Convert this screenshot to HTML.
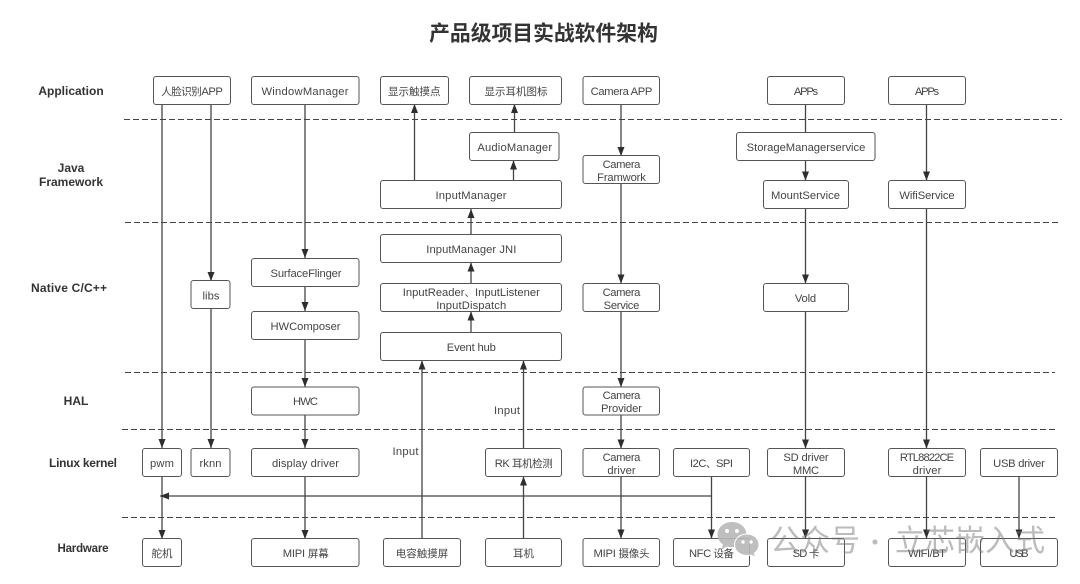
<!DOCTYPE html>
<html><head><meta charset="utf-8">
<style>
html,body{margin:0;padding:0;background:#fff;width:1080px;height:584px;overflow:hidden}
svg{display:block;filter:blur(.3px)}
text{font-family:"Liberation Sans","Noto Sans CJK SC",sans-serif;font-size:11.2px;fill:#444;text-anchor:middle}
.b{font-weight:bold;fill:#333;font-size:12px}
.c,tspan.c{font-size:10.5px}
.box{fill:#fff;stroke:#555;stroke-width:1}
.d{stroke:#444;stroke-width:1;stroke-dasharray:6 3;fill:none}
.l{stroke:#444;stroke-width:1.3;fill:none}
.wm{font-family:"Noto Sans CJK SC",sans-serif;font-size:30px;fill:#777;fill-opacity:.5;text-anchor:start}
</style></head><body>
<svg width="1080" height="584" viewBox="0 0 1080 584" xmlns="http://www.w3.org/2000/svg">
<defs>
<marker id="a" markerUnits="userSpaceOnUse" markerWidth="9" markerHeight="8" refX="9" refY="4" orient="auto"><path d="M0 .5L9 4L0 7.5Z" fill="#2e2e2e"/></marker>
</defs>
<text x="543.500" y="40.500" style="font-size:20.8px;font-weight:bold;fill:#333;font-family:'Noto Sans CJK SC',sans-serif">产品级项目实战软件架构</text>

<!-- dashed -->
<path class="d" d="M124 119.500H1062M125 222.500H1061M125 372.500H1055M122 429.500H1057M122 517.500H1057"/>

<!-- lines -->
<g class="l">
<path d="M162 104V448" marker-end="url(#a)"/>
<path d="M211 104V281" marker-end="url(#a)"/>
<path d="M211 309V448" marker-end="url(#a)"/>
<path d="M162 476V539" marker-end="url(#a)"/>
<path d="M305 104V258" marker-end="url(#a)"/>
<path d="M305 286V311" marker-end="url(#a)"/>
<path d="M305 339V387" marker-end="url(#a)"/>
<path d="M305 415V448" marker-end="url(#a)"/>
<path d="M305 476V539" marker-end="url(#a)"/>
<path d="M414.500 181V104" marker-end="url(#a)"/>
<path d="M514.500 132V104" marker-end="url(#a)"/>
<path d="M513.500 181V160.500" marker-end="url(#a)"/>
<path d="M471 234V209" marker-end="url(#a)"/>
<path d="M471 283V262.500" marker-end="url(#a)"/>
<path d="M471 333V311.500" marker-end="url(#a)"/>
<path d="M422 539V360.500" marker-end="url(#a)"/>
<path d="M523.500 448V360.500" marker-end="url(#a)"/>
<path d="M523.500 539V476.500" marker-end="url(#a)"/>
<path d="M621 104V156" marker-end="url(#a)"/>
<path d="M621 183V283.500" marker-end="url(#a)"/>
<path d="M621 311V387" marker-end="url(#a)"/>
<path d="M621 415V448.500" marker-end="url(#a)"/>
<path d="M621 476V538.500" marker-end="url(#a)"/>
<path d="M711.500 476V538.500" marker-end="url(#a)"/>
<path d="M711.500 496H160" marker-end="url(#a)"/>
<path d="M805.500 104V132.500"/>
<path d="M805.500 160V180.500" marker-end="url(#a)"/>
<path d="M805.500 209V283.500" marker-end="url(#a)"/>
<path d="M805.500 311V448.500" marker-end="url(#a)"/>
<path d="M926.500 104V180.500" marker-end="url(#a)"/>
<path d="M926.500 209V448.500" marker-end="url(#a)"/>
</g>

<!-- boxes -->
<g class="box">
<rect x="153.500" y="76.500" width="77" height="28" rx="2.500"/>
<rect x="251.500" y="76.500" width="107.500" height="28" rx="2.500"/>
<rect x="380.500" y="76.500" width="68" height="28" rx="2.500"/>
<rect x="469.500" y="76.500" width="92" height="28" rx="2.500"/>
<rect x="583" y="76.500" width="76.500" height="28" rx="2.500"/>
<rect x="767.500" y="76.500" width="77" height="28" rx="2.500"/>
<rect x="888.500" y="76.500" width="77" height="28" rx="2.500"/>
<rect x="469.500" y="132.500" width="89.500" height="28" rx="2.500"/>
<rect x="736.500" y="132.500" width="138.500" height="28" rx="2.500"/>
<rect x="583" y="155.500" width="76.500" height="28" rx="2.500"/>
<rect x="380.500" y="180.500" width="181" height="28" rx="2.500"/>
<rect x="763.500" y="180.500" width="85" height="28" rx="2.500"/>
<rect x="888.500" y="180.500" width="77" height="28" rx="2.500"/>
<rect x="380.500" y="234.500" width="181" height="28" rx="2.500"/>
<rect x="251.500" y="258.500" width="107.500" height="28" rx="2.500"/>
<rect x="191" y="280.500" width="39" height="28" rx="2.500"/>
<rect x="380.500" y="283.500" width="181" height="28" rx="2.500"/>
<rect x="583" y="283.500" width="76.500" height="28" rx="2.500"/>
<rect x="763.500" y="283.500" width="85" height="28" rx="2.500"/>
<rect x="251.500" y="311.500" width="107.500" height="28" rx="2.500"/>
<rect x="380.500" y="332.500" width="181" height="28" rx="2.500"/>
<rect x="251.500" y="387" width="107.500" height="28" rx="2.500"/>
<rect x="583" y="387" width="76.500" height="28" rx="2.500"/>
<rect x="142.500" y="448.500" width="39" height="28" rx="2.500"/>
<rect x="191" y="448.500" width="39" height="28" rx="2.500"/>
<rect x="251.500" y="448.500" width="107.500" height="28" rx="2.500"/>
<rect x="485.500" y="448.500" width="76" height="28" rx="2.500"/>
<rect x="583" y="448.500" width="76.500" height="28" rx="2.500"/>
<rect x="673.500" y="448.500" width="76" height="28" rx="2.500"/>
<rect x="767.500" y="448.500" width="77" height="28" rx="2.500"/>
<rect x="888.500" y="448.500" width="77" height="28" rx="2.500"/>
<rect x="980.500" y="448.500" width="77" height="28" rx="2.500"/>
<rect x="142.500" y="538.500" width="39" height="28" rx="2.500"/>
<rect x="251.500" y="538.500" width="107.500" height="28" rx="2.500"/>
<rect x="383.500" y="538.500" width="77" height="28" rx="2.500"/>
<rect x="485.500" y="538.500" width="76" height="28" rx="2.500"/>
<rect x="583" y="538.500" width="76.500" height="28" rx="2.500"/>
<rect x="673.500" y="538.500" width="76" height="28" rx="2.500"/>
<rect x="767.500" y="538.500" width="77" height="28" rx="2.500"/>
<rect x="888.500" y="538.500" width="77" height="28" rx="2.500"/>
<rect x="980.500" y="538.500" width="77" height="28" rx="2.500"/>
</g>

<!-- connectors whose heads sit on the hardware boxes, painted after the boxes -->
<g class="l">
<path d="M805.500 476.500V538.500" marker-end="url(#a)"/>
<path d="M926.500 476.500V538.500" marker-end="url(#a)"/>
<path d="M1019 476.500V538.500" marker-end="url(#a)"/>
</g>

<!-- layer labels -->
<text class="b" x="71" y="95">Application</text>
<text class="b" x="71" y="172">Java</text>
<text class="b" x="71" y="186">Framework</text>
<text class="b" x="69" y="292" textLength="76">Native C/C++</text>
<text class="b" x="76" y="405">HAL</text>
<text class="b" x="83" y="467" textLength="68">Linux kernel</text>
<text class="b" x="83" y="552" style="font-size:11.5px" textLength="51">Hardware</text>

<!-- node labels -->
<g>
<text x="192" y="95" textLength="61.700"><tspan class="c">人脸识别</tspan>APP</text>
<text x="305" y="95" textLength="87">WindowManager</text>
<text class="c" x="414.300" y="95">显示触摸点</text>
<text class="c" x="516" y="95">显示耳机图标</text>
<text x="621.500" y="95" textLength="61.700">Camera APP</text>
<text x="806" y="95" textLength="24.300">APPs</text>
<text x="927" y="95" textLength="24.300">APPs</text>
<text x="514.700" y="151" textLength="74.700">AudioManager</text>
<text x="806" y="151" textLength="118.700">StorageManagerservice</text>
<text x="621.500" y="168" textLength="37.700">Camera</text>
<text x="621.500" y="181" textLength="48.700">Framwork</text>
<text x="471" y="199" textLength="71">InputManager</text>
<text x="805.500" y="199" textLength="69">MountService</text>
<text x="927" y="199" textLength="55.300">WifiService</text>
<text x="471.300" y="253" textLength="90">InputManager JNI</text>
<text x="306" y="277" textLength="71">SurfaceFlinger</text>
<text x="211" y="299.500" textLength="17">libs</text>
<text x="471.300" y="296" textLength="137">InputReader<tspan class="c">、</tspan>InputListener</text>
<text x="471.200" y="309" textLength="70">InputDispatch</text>
<text x="621.500" y="296" textLength="37.700">Camera</text>
<text x="621.500" y="309" textLength="35.700">Service</text>
<text x="805.500" y="302" textLength="21.300">Vold</text>
<text x="305.500" y="330" textLength="70">HWComposer</text>
<text x="471.300" y="351" textLength="49">Event hub</text>
<text x="305.500" y="405" textLength="25">HWC</text>
<text x="621.500" y="399" textLength="37.700">Camera</text>
<text x="621.500" y="412" textLength="41">Provider</text>
<text x="507" y="414" textLength="26">Input</text>
<text x="405.500" y="455" textLength="26">Input</text>
<text x="162" y="467" textLength="24">pwm</text>
<text x="210.500" y="467" textLength="22">rknn</text>
<text x="305.500" y="467" textLength="67">display driver</text>
<text x="523.700" y="467" textLength="58">RK <tspan class="c">耳机检测</tspan></text>
<text x="621.500" y="461" textLength="37.700">Camera</text>
<text x="621.500" y="474" textLength="28.300">driver</text>
<text x="711.500" y="467" textLength="43">I2C<tspan class="c">、</tspan>SPI</text>
<text x="806" y="461" textLength="45.300">SD driver</text>
<text x="806" y="474" textLength="26.300">MMC</text>
<text x="927" y="461" textLength="54.300">RTL8822CE</text>
<text x="927" y="474" textLength="28.700">driver</text>
<text x="1019" y="467" textLength="51.700">USB driver</text>
<text class="c" x="162" y="557">舵机</text>
<text x="305.700" y="557" textLength="46">MIPI <tspan class="c">屏幕</tspan></text>
<text class="c" x="422" y="557">电容触摸屏</text>
<text class="c" x="523.500" y="557">耳机</text>
<text x="621.500" y="557" textLength="56">MIPI <tspan class="c">摄像头</tspan></text>
<text x="711.500" y="557" textLength="45">NFC <tspan class="c">设备</tspan></text>
<text x="806" y="557" textLength="26.700">SD <tspan class="c">卡</tspan></text>
<text x="927" y="557" textLength="38">WIFI/BT</text>
<text x="1019" y="557" textLength="19.300">USB</text>
</g>

<!-- watermark -->
<g opacity=".9">
<path d="M732 522c-8 0-14.500 5.500-14.500 12.500c0 4 2 7.500 5.500 10l-1.500 5l5.500-3c1.600.4 3.200.6 5 .6c8 0 14.500-5.600 14.500-12.600S740 522 732 522Z" fill="#b8b8b8"/>
<circle cx="727" cy="531" r="2" fill="#fff"/><circle cx="737" cy="531" r="2" fill="#fff"/>
<path d="M747 534c-7 0-12.500 4.800-12.500 10.800s5.500 10.700 12.500 10.700c1.400 0 2.800-.2 4-.6l4.500 2.500l-1.200-4c2.800-2 4.700-5 4.700-8.600C759 538.800 754 534 747 534Z" fill="#b8b8b8" stroke="#fff" stroke-width="1"/>
<circle cx="743" cy="542" r="1.700" fill="#fff"/><circle cx="751" cy="542" r="1.700" fill="#fff"/>
</g>
<text class="wm" x="770" y="551">公众号</text>
<text class="wm" x="863" y="551" style="font-size:24px">·</text>
<text class="wm" x="895" y="551">立芯嵌入式</text>
</svg>
</body></html>
